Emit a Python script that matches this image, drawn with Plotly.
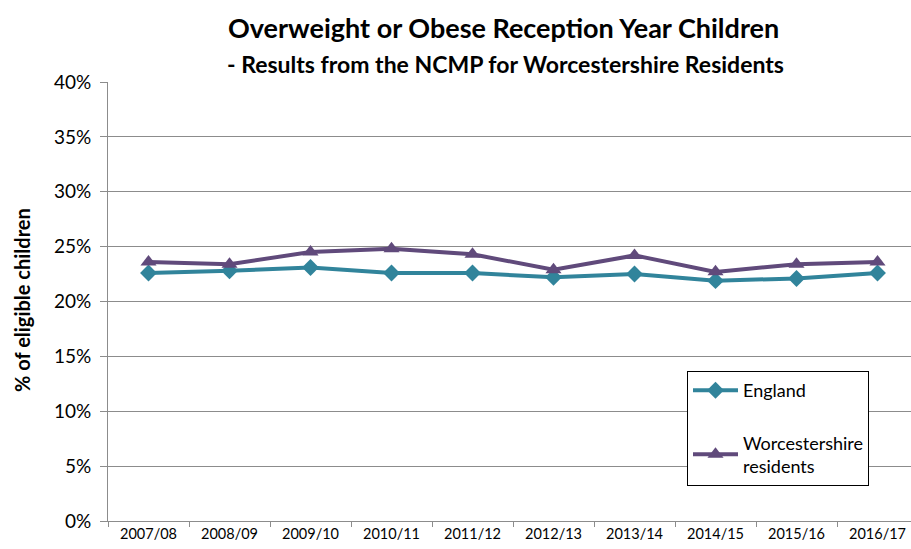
import plotly.graph_objects as go

years = ["2007/08", "2008/09", "2009/10", "2010/11", "2011/12",
         "2012/13", "2013/14", "2014/15", "2015/16", "2016/17"]
england = [22.6, 22.8, 23.1, 22.6, 22.6, 22.2, 22.5, 21.9, 22.1, 22.6]
worcestershire = [23.6, 23.4, 24.5, 24.8, 24.3, 22.9, 24.2, 22.7, 23.4, 23.6]
y_ticks = [0, 5, 10, 15, 20, 25, 30, 35, 40]

FONT = "Lato, 'Open Sans', sans-serif"
TEAL = "#31849B"
PURPLE = "#604A7B"
GRID = "#8C8C8C"

# figure size and plot-area margins, in pixels
W, H = 911, 549
L, R, T, B = 108, 0, 82, 28
pw, ph = W - L - R, H - T - B


def px(x):
    return (x - L) / pw


def py(y):
    return (H - B - y) / ph


fig = go.Figure()
fig.add_trace(go.Scatter(
    x=years, y=england, name="England", mode="lines+markers",
    line=dict(color=TEAL, width=4),
    marker=dict(symbol="diamond", size=13, color=TEAL),
    legendgroup="a",
))
fig.add_trace(go.Scatter(
    x=years, y=worcestershire, name="Worcestershire<br>residents",
    mode="lines+markers",
    line=dict(color=PURPLE, width=4),
    marker=dict(symbol="triangle-up", size=14, color=PURPLE),
    legendgroup="b",
))

fig.update_layout(
    width=W, height=H,
    margin=dict(l=L, r=R, t=T, b=B),
    paper_bgcolor="white", plot_bgcolor="white",
    font=dict(family=FONT, color="black"),
    showlegend=True,
    legend=dict(
        x=px(687), y=py(371), xanchor="left", yanchor="top",
        bordercolor="black", borderwidth=1, bgcolor="white",
        font=dict(size=18, family=FONT), tracegroupgap=26,
        traceorder="grouped", itemwidth=45,
    ),
    annotations=[
        dict(text="<b>Overweight or Obese Reception Year Children</b>",
             x=px(503), y=py(28), xref="paper", yref="paper",
             showarrow=False, xanchor="center", yanchor="middle",
             font=dict(size=27, family=FONT)),
        dict(text="<b>- Results from the NCMP for Worcestershire Residents</b>",
             x=px(505), y=py(64), xref="paper", yref="paper",
             showarrow=False, xanchor="center", yanchor="middle",
             font=dict(size=23, family=FONT)),
        dict(text="<b>% of eligible children</b>",
             x=px(22), y=py(300), xref="paper", yref="paper",
             showarrow=False, xanchor="center", yanchor="middle",
             textangle=-90, font=dict(size=20, family=FONT)),
    ],
)

fig.update_xaxes(
    type="category", range=[-0.5, -0.5 + (W - L) / 81.0],
    showline=True, linecolor=GRID, linewidth=1,
    ticks="outside", tickson="boundaries", ticklen=5, tickcolor=GRID,
    showgrid=False, tickfont=dict(size=14.5, family=FONT),
    fixedrange=True,
)
fig.update_yaxes(
    range=[0, 40], tickvals=y_ticks, ticktext=[f"{v}%" for v in y_ticks],
    showline=True, linecolor=GRID, linewidth=1,
    ticks="outside", ticklen=7, tickcolor=GRID, ticklabelstandoff=5,
    showgrid=True, gridcolor=GRID, gridwidth=1,
    zeroline=False, tickfont=dict(size=19, family=FONT),
    fixedrange=True,
)

fig.write_html("out.html")
